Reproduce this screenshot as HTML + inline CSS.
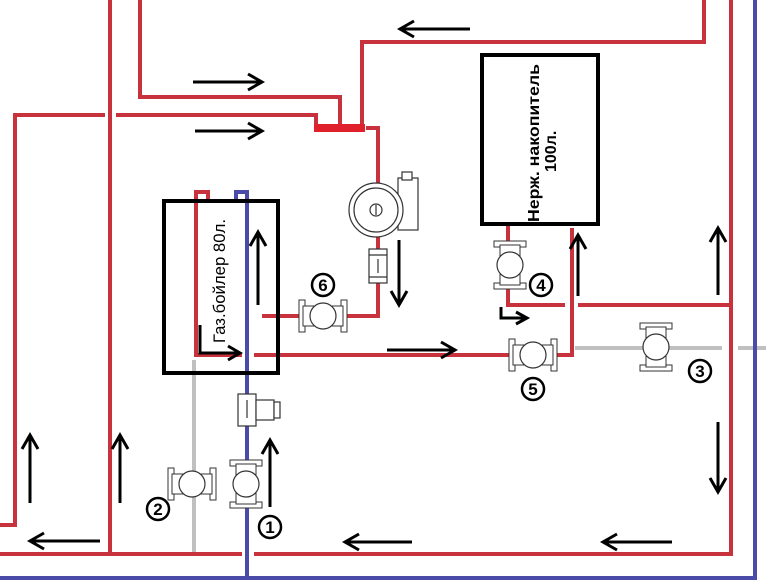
<!DOCTYPE html>
<html><head><meta charset="utf-8"><style>
html,body{margin:0;padding:0;background:#fff;width:766px;height:588px;overflow:hidden}
svg{display:block}
</style></head><body>
<svg width="766" height="588" viewBox="0 0 766 588" xmlns="http://www.w3.org/2000/svg" font-family="Liberation Sans, sans-serif">
<defs>
<g id="valveH">
 <rect x="-24" y="-16" width="6" height="32" fill="#fff" stroke="#333" stroke-width="1"/>
 <rect x="18" y="-16" width="6" height="32" fill="#fff" stroke="#333" stroke-width="1"/>
 <rect x="-20" y="-10" width="40" height="20" fill="#fff" stroke="#333" stroke-width="1"/>
 <circle cx="0" cy="0" r="13" fill="#fff" stroke="#333" stroke-width="1.2"/>
</g>
<g id="valveV">
 <rect x="-16" y="-24" width="32" height="6" fill="#fff" stroke="#333" stroke-width="1"/>
 <rect x="-16" y="18" width="32" height="6" fill="#fff" stroke="#333" stroke-width="1"/>
 <rect x="-10" y="-20" width="20" height="40" fill="#fff" stroke="#333" stroke-width="1"/>
 <circle cx="0" cy="0" r="13" fill="#fff" stroke="#333" stroke-width="1.2"/>
</g>
</defs>
<g fill="none" stroke-linecap="butt">
<path d="M194 360 V554" stroke="#c0c0c0" stroke-width="4"/>
<path d="M575 348 H722 M738 348 H766" stroke="#c0c0c0" stroke-width="4"/>
<path d="M0 578 H755 V0" stroke="#4a4aa8" stroke-width="4"/>
<path d="M236 200 V192 H247 V578" stroke="#4a4aa8" stroke-width="4"/>
<g stroke="#c8323c" stroke-width="4">
<path d="M110 0 V554"/>
<path d="M0 554 H242 M254 554 H731 V0"/>
<path d="M140 0 V97 H340 V125"/>
<path d="M0 525 H15 V115 H105 M116 115 H316 V125"/>
<path d="M362 125 V42 H704 V0"/>
<path d="M366 128 H378 V316 H345"/>
<path d="M300 316 H262"/>
<path d="M208 200 V192 H196 V355 H242 M254 355 H510"/>
<path d="M556 355 H572 V228"/>
<path d="M508 224 V305 H565 M578 305 H731"/>
</g>
<rect x="314" y="124" width="51" height="8" fill="#e0202a" stroke="none"/>
<rect x="164" y="201" width="114" height="172" stroke="#000" stroke-width="4"/>
<rect x="482" y="55" width="116" height="169" stroke="#000" stroke-width="4"/>
</g>
<g stroke="#333" fill="#fff" stroke-width="1.2">
<rect x="398" y="178" width="20" height="52"/>
<rect x="402" y="172" width="10" height="8"/>
<circle cx="376" cy="210" r="27"/>
<circle cx="376" cy="210" r="22"/>
<circle cx="376" cy="210" r="6"/>
<line x1="376" y1="205" x2="376" y2="215"/>
<rect x="369" y="249" width="18" height="34"/>
<line x1="369" y1="255" x2="387" y2="255"/><line x1="369" y1="277" x2="387" y2="277"/>
<line x1="378" y1="259" x2="378" y2="273"/>
<rect x="238" y="394" width="18" height="32"/>
<rect x="256" y="400" width="18" height="20"/>
<rect x="274" y="402" width="6" height="16"/>
<line x1="247" y1="400" x2="247" y2="418"/>
</g>
<use href="#valveH" x="323" y="316"/>
<use href="#valveH" x="533" y="355"/>
<use href="#valveV" x="510" y="265"/>
<use href="#valveV" x="656" y="347"/>
<use href="#valveH" x="192" y="484"/>
<use href="#valveV" x="246" y="484"/>
<g stroke="#000" stroke-width="3" fill="none">
<path d="M193 82 H262 M248 74 L262 82 L248 90"/>
<path d="M195 131 H262 M248 123 L262 131 L248 139"/>
<path d="M387 350 H455 M441 342 L455 350 L441 358"/>
<path d="M470 29 H400 M414 21 L400 29 L414 37"/>
<path d="M100 541 H30 M44 533 L30 541 L44 549"/>
<path d="M412 542 H345 M359 534 L345 542 L359 550"/>
<path d="M672 542 H603 M617 534 L603 542 L617 550"/>
<path d="M30 503 V435 M22 449 L30 435 L38 449"/>
<path d="M120 503 V435 M112 449 L120 435 L128 449"/>
<path d="M258 305 V232 M250 246 L258 232 L266 246"/>
<path d="M270 507 V440 M262 454 L270 440 L278 454"/>
<path d="M578 296 V235 M570 249 L578 235 L586 249"/>
<path d="M718 295 V228 M710 242 L718 228 L726 242"/>
<path d="M399 240 V305 M391 291 L399 305 L407 291"/>
<path d="M718 422 V492 M710 478 L718 492 L726 478"/>
<path d="M200 325 V353 H240 M228 346 L240 353 L228 360"/>
<path d="M501 307 V318 H527 M516 312 L527 318 L516 324"/>
</g>
<text transform="translate(225,343) rotate(-90)" font-size="17" fill="#000" textLength="124" lengthAdjust="spacingAndGlyphs">Газ.бойлер 80л.</text>
<text transform="translate(539,222) rotate(-90)" font-size="16" fill="#000" font-weight="bold" textLength="158" lengthAdjust="spacingAndGlyphs">Нерж. накопитель</text>
<text transform="translate(556,172) rotate(-90)" font-size="16" fill="#000" font-weight="bold">100л.</text>
<g fill="#fff" stroke="#000" stroke-width="2.5">
<circle cx="323" cy="285" r="11"/><circle cx="541" cy="285" r="11"/><circle cx="533" cy="389" r="11"/>
<circle cx="700" cy="371" r="11"/><circle cx="158" cy="509" r="11"/><circle cx="270" cy="527" r="11"/>
</g>
<g font-size="17" font-weight="bold" text-anchor="middle" fill="#000">
<text x="323" y="291">6</text><text x="541" y="291">4</text><text x="533" y="395">5</text>
<text x="700" y="377">3</text><text x="158" y="515">2</text><text x="270" y="533">1</text>
</g>
</svg>
</body></html>
